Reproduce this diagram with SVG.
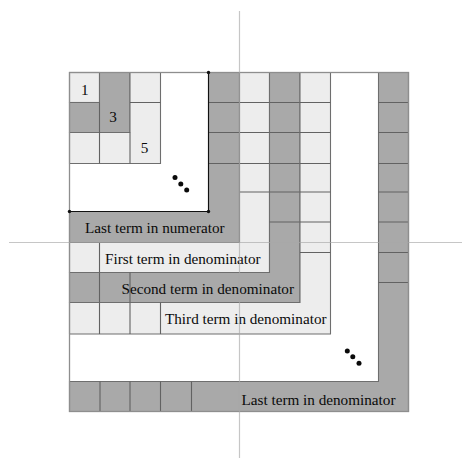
<svg xmlns="http://www.w3.org/2000/svg" width="462" height="458" viewBox="0 0 462 458">
<style>
.dk{fill:#a9a9a9;stroke:#6e6e6e;stroke-width:1.1}
.lt{fill:#ededed;stroke:#6e6e6e;stroke-width:1.1}
.dv{stroke:#626262;stroke-width:1.1;fill:none}
.t{font-family:"Liberation Serif","Times New Roman",serif;font-size:15.2px;fill:#0a0a0a}
.bk{stroke:#111;stroke-width:1.1;fill:none}
.guide{stroke:#a8a8a8;stroke-width:1.2;stroke-opacity:0.65}
</style>
<rect x="0" y="0" width="462" height="458" fill="#ffffff"/>
<g id="grid-start">
<rect class="lt" x="69.5" y="72.5" width="30" height="30"/>
<path class="dk" d="M99.5 72.5H130V132.5H69.5V102.5H99.5Z"/>
<path class="lt" d="M130 72.5H160.5V163.5H69.5V132.5H130Z"/>
<path class="dv" d="M99.5 102.5V163.5M130 102.5H160.5M130 132.5V163.5M99.5 132.5V102.5"/>
<text class="t" x="84.7" y="95" text-anchor="middle">1</text>
<text class="t" x="113" y="121.5" text-anchor="middle">3</text>
<text class="t" x="144.5" y="152.5" text-anchor="middle">5</text>
</g>
<g id="band-last-numerator">
<path class="dk" d="M208.5 72.5H239.5V242.5H69.5V211.5H208.5Z"/>
<path class="dv" d="M208.5 102.5H239.5M208.5 132.5H239.5M208.5 163.5H239.5"/>
<text class="t" x="85" y="232.5">Last term in numerator</text>
</g>
<g id="band-first-denominator">
<path class="lt" d="M239.5 72.5H269.5V272.5H69.5V242.5H239.5Z"/>
<path class="dv" d="M239.5 102.5H269.5M239.5 132.5H269.5M239.5 163.5H269.5M239.5 192H269.5M99.5 242.5V272.5"/>
<text class="t" x="105" y="263.5">First term in denominator</text>
</g>
<g id="band-second-denominator">
<path class="dk" d="M269.5 72.5H300V302.5H69.5V272.5H269.5Z"/>
<path class="dv" d="M269.5 102.5H300M269.5 132.5H300M269.5 163.5H300M269.5 192H300M269.5 222H300M99.5 272.5V302.5M130 272.5V302.5"/>
<text class="t" x="121.5" y="293.5">Second term in denominator</text>
</g>
<g id="band-third-denominator">
<path class="lt" d="M300 72.5H330.5V334H69.5V302.5H300Z"/>
<path class="dv" d="M300 102.5H330.5M300 132.5H330.5M300 163.5H330.5M300 192H330.5M300 222H330.5M300 252.5H330.5M99.5 302.5V334M130 302.5V334M160.5 302.5V334"/>
<text class="t" x="165" y="323.5">Third term in denominator</text>
</g>
<g id="band-last-denominator">
<path class="dk" d="M378.5 72.5H408.5V411.5H69.5V381.5H378.5Z"/>
<path class="dv" d="M378.5 102.5H408.5M378.5 132.5H408.5M378.5 163.5H408.5M378.5 192H408.5M378.5 222H408.5M378.5 252.5H408.5M378.5 282.5H408.5M100 381.5V411.5M130 381.5V411.5M160.5 381.5V411.5M191.5 381.5V411.5"/>
<text class="t" x="241.5" y="405">Last term in denominator</text>
</g>
<g id="outline">
<rect x="69.5" y="72.5" width="339" height="339" fill="none" stroke="#8e8e8e" stroke-width="1.3"/>
<path class="bk" d="M69.5 211.5H208.5V72.5"/>
<circle cx="69.5" cy="211.5" r="1.7" fill="#111"/>
<circle cx="208.5" cy="211.5" r="1.7" fill="#111"/>
<circle cx="208.5" cy="72.5" r="1.7" fill="#111"/>
</g>
<g id="ellipsis-numerator" fill="#0a0a0a">
<circle cx="175" cy="177.5" r="2.5"/>
<circle cx="180.8" cy="184" r="2.5"/>
<circle cx="186.7" cy="190" r="2.5"/>
</g>
<g id="ellipsis-denominator" fill="#0a0a0a">
<circle cx="347.3" cy="351" r="2.5"/>
<circle cx="352.8" cy="356.8" r="2.5"/>
<circle cx="359" cy="363.3" r="2.5"/>
</g>
<g id="connectors">
<line class="guide" x1="239.5" y1="11" x2="239.5" y2="458"/>
<line class="guide" x1="9" y1="242.5" x2="462" y2="242.5"/>
</g>
</svg>
